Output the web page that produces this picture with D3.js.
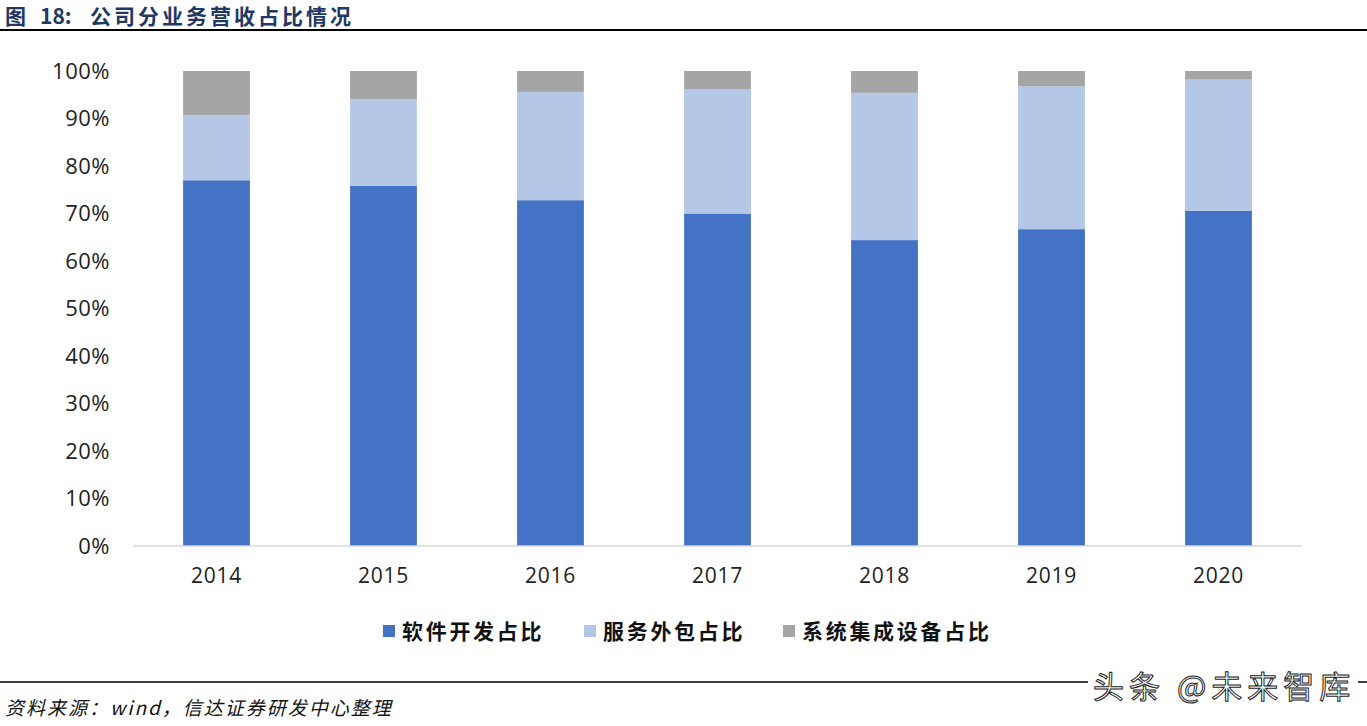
<!DOCTYPE html>
<html>
<head>
<meta charset="utf-8">
<script src="https://cdn.jsdelivr.net/npm/d3@7"></script>
<style>
  body { margin: 0; background: #fff; }
  svg { display: block; }
</style>
</head>
<body>
<script>
// data (percent of revenue)
const years = ["2014", "2015", "2016", "2017", "2018", "2019", "2020"];
const software = [77.0, 75.8, 72.8, 70.0, 64.4, 66.7, 70.6];
const outsourcing = [13.7, 18.3, 22.8, 26.1, 31.0, 30.1, 27.6];
const integration = [9.3, 5.9, 4.4, 3.9, 4.6, 3.2, 1.8];
const seriesNames = ["软件开发占比", "服务外包占比", "系统集成设备占比"];
const yTicks = [0, 10, 20, 30, 40, 50, 60, 70, 80, 90, 100];

const width = 1367, height = 726;
const colors = ["#4472c4", "#b4c7e7", "#a5a5a5"];

const svg = d3.select("body").append("svg")
    .attr("width", width)
    .attr("height", height);

// title + rule
const title = svg.append("text")
    .attr("y", 24)
    .attr("font-family", "Noto Sans CJK SC")
    .attr("font-weight", "bold")
    .attr("font-size", 21)
    .attr("fill", "#1f3864");
title.append("tspan").attr("x", 5).text("图");
title.append("tspan").attr("x", 40).text("18:");
title.append("tspan").attr("x", 90).attr("letter-spacing", 3).text("公司分业务营收占比情况");

svg.append("line")
    .attr("x1", 0).attr("x2", width)
    .attr("y1", 30).attr("y2", 30)
    .attr("stroke", "#000").attr("stroke-width", 2);

const table = years.map((y, i) => ({
  year: y,
  [seriesNames[0]]: software[i],
  [seriesNames[1]]: outsourcing[i],
  [seriesNames[2]]: integration[i]
}));
const stacked = d3.stack().keys(seriesNames)(table);

const x = d3.scaleBand().domain(years).range([133, 1302]).paddingInner(0.6).paddingOuter(0.3);
const y = d3.scaleLinear().domain([0, 100]).range([546, 71]);

// bars
svg.append("g")
  .selectAll("g")
  .data(stacked)
  .join("g")
    .attr("fill", (d, i) => colors[i])
  .selectAll("rect")
  .data(d => d)
  .join("rect")
    .attr("x", d => x(d.data.year))
    .attr("width", x.bandwidth())
    .attr("y", d => y(d[1]))
    .attr("height", d => y(d[0]) - y(d[1]));

// x axis
const xAxis = svg.append("g")
    .attr("transform", "translate(0,546)")
    .call(d3.axisBottom(x).tickSize(0).tickPadding(22));
xAxis.select(".domain").attr("stroke", "#d9d9d9").attr("stroke-width", 1.5)
    .attr("d", "M133,0H1302");
xAxis.selectAll("text")
    .attr("font-family", "Open Sans")
    .attr("font-size", 21)
    .attr("letter-spacing", 0.8)
    .attr("fill", "#222");

// y axis
const yAxis = svg.append("g")
    .attr("transform", "translate(110,0)")
    .call(d3.axisLeft(y).tickValues(yTicks).tickFormat(d => d + "%").tickSize(0).tickPadding(0));
yAxis.select(".domain").remove();
yAxis.selectAll("text")
    .attr("font-family", "Open Sans")
    .attr("font-size", 22)
    .attr("letter-spacing", 0.5)
    .attr("fill", "#222");

// legend
const legendX = [383, 584, 783];
const legend = svg.append("g")
  .selectAll("g")
  .data(seriesNames)
  .join("g")
    .attr("transform", (d, i) => `translate(${legendX[i]},631)`);
legend.append("rect")
    .attr("x", 0).attr("y", -6)
    .attr("width", 12).attr("height", 12)
    .attr("fill", (d, i) => colors[i]);
legend.append("text")
    .attr("x", 19).attr("y", 0)
    .attr("dy", "0.36em")
    .attr("font-family", "Noto Sans CJK SC")
    .attr("font-weight", "bold")
    .attr("font-size", 21)
    .attr("letter-spacing", 2.7)
    .attr("fill", "#111")
    .text(d => d);

// footer
svg.append("line")
    .attr("x1", 0).attr("x2", width)
    .attr("y1", 682).attr("y2", 682)
    .attr("stroke", "#000").attr("stroke-width", 1.5);

svg.append("text")
    .attr("x", 5).attr("y", 715)
    .attr("font-family", "Noto Sans CJK SC")
    .attr("font-style", "italic")
    .attr("font-size", 19)
    .attr("letter-spacing", 2)
    .attr("fill", "#111")
    .text("资料来源：wind，信达证券研发中心整理");

svg.append("rect")
    .attr("x", 1088).attr("y", 668)
    .attr("width", 270).attr("height", 34)
    .attr("fill", "#fff");
svg.append("text")
    .attr("x", 1093).attr("y", 698)
    .attr("font-family", "Noto Sans CJK SC")
    .attr("font-size", 31)
    .attr("letter-spacing", 5)
    .attr("fill", "#fff")
    .attr("stroke", "#222")
    .attr("stroke-width", 1)
    .text("头条 @未来智库");
</script>
</body>
</html>
